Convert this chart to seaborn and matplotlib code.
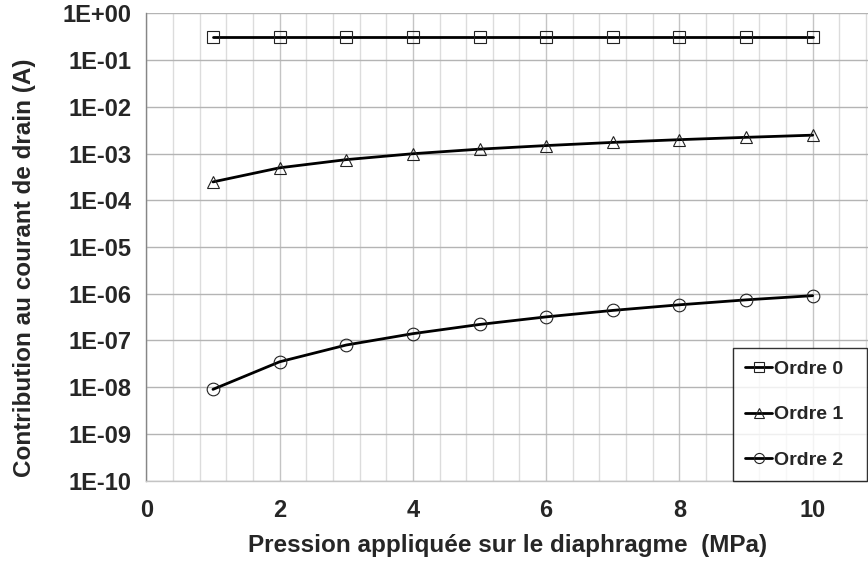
import numpy as np
import pandas as pd
import seaborn as sns
from matplotlib import pyplot as plt
from matplotlib.ticker import MultipleLocator, FuncFormatter

# values
pression = [1, 2, 3, 4, 5, 6, 7, 8, 9, 10]
ordre_0 = [0.316, 0.316, 0.316, 0.316, 0.316, 0.316, 0.316, 0.316, 0.316, 0.316]
ordre_1 = [2.47e-4, 4.95e-4, 7.4e-4, 9.9e-4, 1.24e-3, 1.48e-3, 1.73e-3, 1.98e-3, 2.22e-3, 2.47e-3]
ordre_2 = [9.0e-9, 3.5e-8, 8.0e-8, 1.4e-7, 2.2e-7, 3.2e-7, 4.4e-7, 5.8e-7, 7.4e-7, 9.1e-7]

series_names = ['Ordre 0', 'Ordre 1', 'Ordre 2']
series_markers = ['s', '^', 'o']
x_ticks = [0, 2, 4, 6, 8, 10]
y_ticks = [1e-10, 1e-9, 1e-8, 1e-7, 1e-6, 1e-5, 1e-4, 1e-3, 1e-2, 1e-1, 1e0]


def exp_label(v, pos):
    return f'1E{int(round(np.log10(v))):+03d}'


sns.set_style('white')
plt.rcParams['font.family'] = ['Liberation Sans', 'DejaVu Sans']
plt.rcParams['font.weight'] = 'bold'

df = pd.DataFrame({'pression': pression * 3,
                   'courant': ordre_0 + ordre_1 + ordre_2,
                   'serie': np.repeat(series_names, len(pression))})

fig = plt.figure(figsize=(8.68, 5.66), dpi=100)
ax = fig.add_axes([0.1686, 0.1507, 1 - 0.1686, 0.8258])

for name, mk in zip(series_names, series_markers):
    sub = df[df['serie'] == name]
    sns.lineplot(data=sub, x='pression', y='courant', ax=ax, color='black', lw=2.0,
                 marker=mk, markersize=9.1, markerfacecolor='none',
                 markeredgecolor='#222222', markeredgewidth=0.8, label=name, legend=False)

ax.set_yscale('log')
ax.set_ylim(1e-10, 1e0)
ax.set_xlim(0, 10.83)
ax.set_yticks(y_ticks)
ax.yaxis.set_major_formatter(FuncFormatter(exp_label))
ax.yaxis.set_minor_locator(plt.NullLocator())
ax.set_xticks(x_ticks)
ax.xaxis.set_minor_locator(MultipleLocator(0.4))

ax.grid(True, which='major', axis='y', color='#b4b4b4', lw=1.0)
ax.grid(True, which='major', axis='x', color='#c4c4c4', lw=1.0)
ax.grid(True, which='minor', axis='x', color='#dcdcdc', lw=1.0)
ax.set_axisbelow(True)

for s in ['top', 'right']:
    ax.spines[s].set_visible(False)
ax.spines['left'].set_color('#868686')
ax.spines['left'].set_linewidth(1.0)
ax.spines['bottom'].set_color('#c4c4c4')
ax.spines['bottom'].set_linewidth(1.0)

ax.tick_params(axis='y', which='major', length=5.5, width=1, color='#b4b4b4', pad=5,
               labelsize=17)
ax.tick_params(axis='x', which='both', length=0, pad=13, labelsize=17)
for lab in ax.get_xticklabels() + ax.get_yticklabels():
    lab.set_fontweight('bold')

ax.set_xlabel('Pression appliquée sur le diaphragme  (MPa)', fontsize=17.5,
              fontweight='bold', labelpad=9)
ax.set_ylabel('Contribution au courant de drain (A)', fontsize=17.5,
              fontweight='bold')
ax.yaxis.set_label_coords(-0.153, 0.456)

handles, labels = ax.get_legend_handles_labels()
leg = ax.legend(handles, labels, loc='lower left',
                bbox_to_anchor=(732.7 / 868, 85 / 566, 134 / 868, 134 / 566),
                bbox_transform=fig.transFigure, mode='expand', frameon=True, fancybox=False,
                edgecolor='black', borderaxespad=0, prop={'size': 14, 'weight': 'bold'},
                handlelength=1.4, handletextpad=0.1, labelspacing=1.42, borderpad=0.64,
                markerscale=0.8)
leg.get_frame().set_linewidth(1.0)

fig.savefig('out.png', dpi=100)
